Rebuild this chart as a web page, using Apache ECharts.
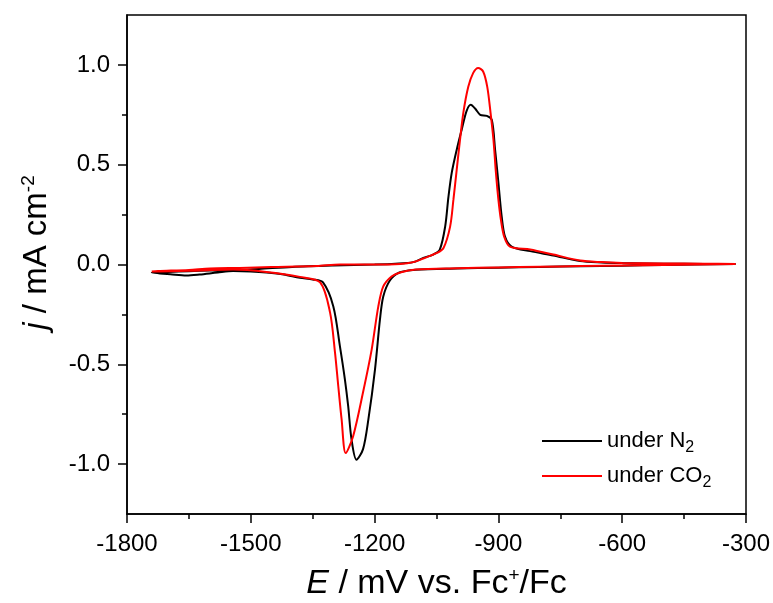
<!DOCTYPE html>
<html>
<head>
<meta charset="utf-8">
<script src="https://cdn.jsdelivr.net/npm/echarts@6/dist/echarts.min.js"></script>
<style>
  html, body { margin: 0; padding: 0; background: #fff; }
  #chart { width: 773px; height: 603px; }
</style>
</head>
<body>
<div id="chart"></div>
<script>
// Cyclic voltammograms: cathodic sweep (-325 → -1740 mV) followed by anodic return sweep.
const seriesNames = ['under N2', 'under CO2'];

// under N2
const n2E = [-325, -500, -600, -700, -800, -900, -1000, -1100, -1140, -1163, -1179, -1187, -1199, -1215, -1228, -1244, -1256, -1264, -1272, -1284, -1300, -1325, -1350, -1381, -1420, -1462, -1500, -1543, -1580, -1624, -1656, -1690, -1740,
  -1700, -1650, -1600, -1530, -1480, -1400, -1300, -1200, -1150, -1106, -1082, -1058, -1042, -1029, -1021, -1013, -1001, -989, -977, -967, -956, -944, -928, -916, -908, -900, -892, -884, -868, -823, -767, -702, -650, -600, -500, -400, -325];
const n2J = [0.003, -0.002, -0.006, -0.009, -0.012, -0.016, -0.020, -0.026, -0.040, -0.080, -0.160, -0.275, -0.525, -0.775, -0.925, -0.978, -0.875, -0.710, -0.575, -0.410, -0.210, -0.090, -0.075, -0.067, -0.050, -0.040, -0.035, -0.033, -0.040, -0.050, -0.055, -0.050, -0.040,
  -0.037, -0.034, -0.030, -0.027, -0.022, -0.012, -0.005, 0.000, 0.004, 0.012, 0.033, 0.050, 0.075, 0.190, 0.340, 0.460, 0.575, 0.675, 0.770, 0.800, 0.780, 0.750, 0.745, 0.725, 0.575, 0.410, 0.240, 0.140, 0.090, 0.067, 0.045, 0.017, 0.010, 0.007, 0.004, 0.003, 0.003];

// under CO2
const co2E = [-325, -500, -600, -700, -800, -900, -1000, -1100, -1138, -1159, -1179, -1191, -1207, -1228, -1252, -1270, -1280, -1288, -1296, -1308, -1332, -1381, -1462, -1543, -1624, -1721, -1740,
  -1725, -1650, -1599, -1527, -1450, -1341, -1284, -1200, -1138, -1106, -1082, -1049, -1033, -1017, -1009, -1001, -993, -985, -973, -961, -949, -937, -927, -919, -912, -906, -900, -894, -886, -872, -823, -767, -702, -650, -600, -500, -400, -325];
const co2J = [0.003, -0.002, -0.005, -0.008, -0.011, -0.015, -0.019, -0.025, -0.040, -0.060, -0.110, -0.210, -0.425, -0.640, -0.860, -0.945, -0.775, -0.610, -0.440, -0.240, -0.090, -0.062, -0.037, -0.025, -0.030, -0.035, -0.035,
  -0.033, -0.027, -0.020, -0.017, -0.013, -0.008, 0.000, 0.000, 0.003, 0.012, 0.030, 0.058, 0.083, 0.190, 0.325, 0.475, 0.625, 0.760, 0.890, 0.960, 0.985, 0.967, 0.890, 0.760, 0.625, 0.460, 0.325, 0.225, 0.140, 0.090, 0.075, 0.050, 0.020, 0.012, 0.008, 0.005, 0.004, 0.003];

const yMajorTicks = [-1.0, -0.5, 0.0, 0.5, 1.0];
const yMinorTicks = [-0.75, -0.25, 0.25, 0.75];

const FONT = "'Liberation Sans', Arial, sans-serif";
const pairs = (xs, ys) => xs.map((x, i) => [x, ys[i]]);

const chart = echarts.init(document.getElementById('chart'), null, { renderer: 'canvas' });

chart.setOption({
  animation: false,
  backgroundColor: '#ffffff',
  grid: {
    left: 127, right: 27, top: 15, bottom: 89,
    containLabel: false,
    outerBoundsMode: 'none',
    show: true, borderColor: '#000', borderWidth: 1.5, backgroundColor: 'transparent'
  },
  legend: {
    orient: 'vertical',
    left: 537, top: 425,
    icon: 'rect',
    itemWidth: 60, itemHeight: 2, itemGap: 9,
    data: seriesNames,
    formatter: name => name.replace('2', '{sub|2}'),
    textStyle: {
      fontFamily: FONT, fontSize: 22, color: '#000',
      rich: { sub: { fontFamily: FONT, fontSize: 16, color: '#000', padding: [14, 0, 0, 0] } }
    }
  },
  xAxis: {
    type: 'value',
    min: -1800, max: -300, interval: 300,
    name: '{i|E} / mV vs. Fc{sup|+}/Fc',
    nameLocation: 'middle', nameGap: 52,
    nameTextStyle: {
      fontFamily: FONT, fontSize: 34, color: '#000',
      rich: {
        i: { fontFamily: FONT, fontSize: 34, fontStyle: 'italic', color: '#000' },
        sup: { fontFamily: FONT, fontSize: 19, color: '#000', padding: [0, 0, 16, 0] }
      }
    },
    axisLine: { show: true, onZero: false, lineStyle: { color: '#000', width: 1.5 } },
    axisTick: { show: true, inside: false, length: 9, lineStyle: { color: '#000', width: 1.5 } },
    minorTick: { show: true, splitNumber: 2, length: 5, lineStyle: { color: '#000', width: 1.5 } },
    axisLabel: { margin: 18, fontFamily: FONT, fontSize: 24, color: '#000', formatter: v => String(v) },
    splitLine: { show: false },
    minorSplitLine: { show: false }
  },
  yAxis: [
    {
      type: 'value',
      min: -1.25, max: 1.25,
      position: 'left',
      name: '{i|j} / mA cm{sup|-2}',
      nameLocation: 'middle', nameGap: 73, nameRotate: 90,
      nameTextStyle: {
        fontFamily: FONT, fontSize: 33, color: '#000',
        padding: [0, 0, 0, 24],
        rich: {
          i: { fontFamily: FONT, fontSize: 33, fontStyle: 'italic', color: '#000' },
          sup: { fontFamily: FONT, fontSize: 19, color: '#000', padding: [0, 0, 16, 0] }
        }
      },
      axisLine: { show: true, onZero: false, lineStyle: { color: '#000', width: 1.5 } },
      axisTick: { show: true, inside: false, length: 9, customValues: yMajorTicks, lineStyle: { color: '#000', width: 1.5 } },
      axisLabel: {
        margin: 17, fontFamily: FONT, fontSize: 24, color: '#000',
        customValues: yMajorTicks,
        formatter: v => v.toFixed(1)
      },
      splitLine: { show: false }
    },
    {
      type: 'value',
      min: -1.25, max: 1.25,
      position: 'left',
      axisLine: { show: false, onZero: false },
      axisTick: { show: true, inside: false, length: 5, customValues: yMinorTicks, lineStyle: { color: '#000', width: 1.5 } },
      axisLabel: { show: false },
      splitLine: { show: false }
    }
  ],
  series: [
    {
      name: seriesNames[0], type: 'line', yAxisIndex: 0,
      data: pairs(n2E, n2J),
      showSymbol: false, symbol: 'none', smooth: 0.3,
      lineStyle: { color: '#000000', width: 2 },
      itemStyle: { color: '#000000' }
    },
    {
      name: seriesNames[1], type: 'line', yAxisIndex: 0,
      data: pairs(co2E, co2J),
      showSymbol: false, symbol: 'none', smooth: 0.3,
      lineStyle: { color: '#ff0000', width: 2 },
      itemStyle: { color: '#ff0000' }
    }
  ]
});
</script>
</body>
</html>
